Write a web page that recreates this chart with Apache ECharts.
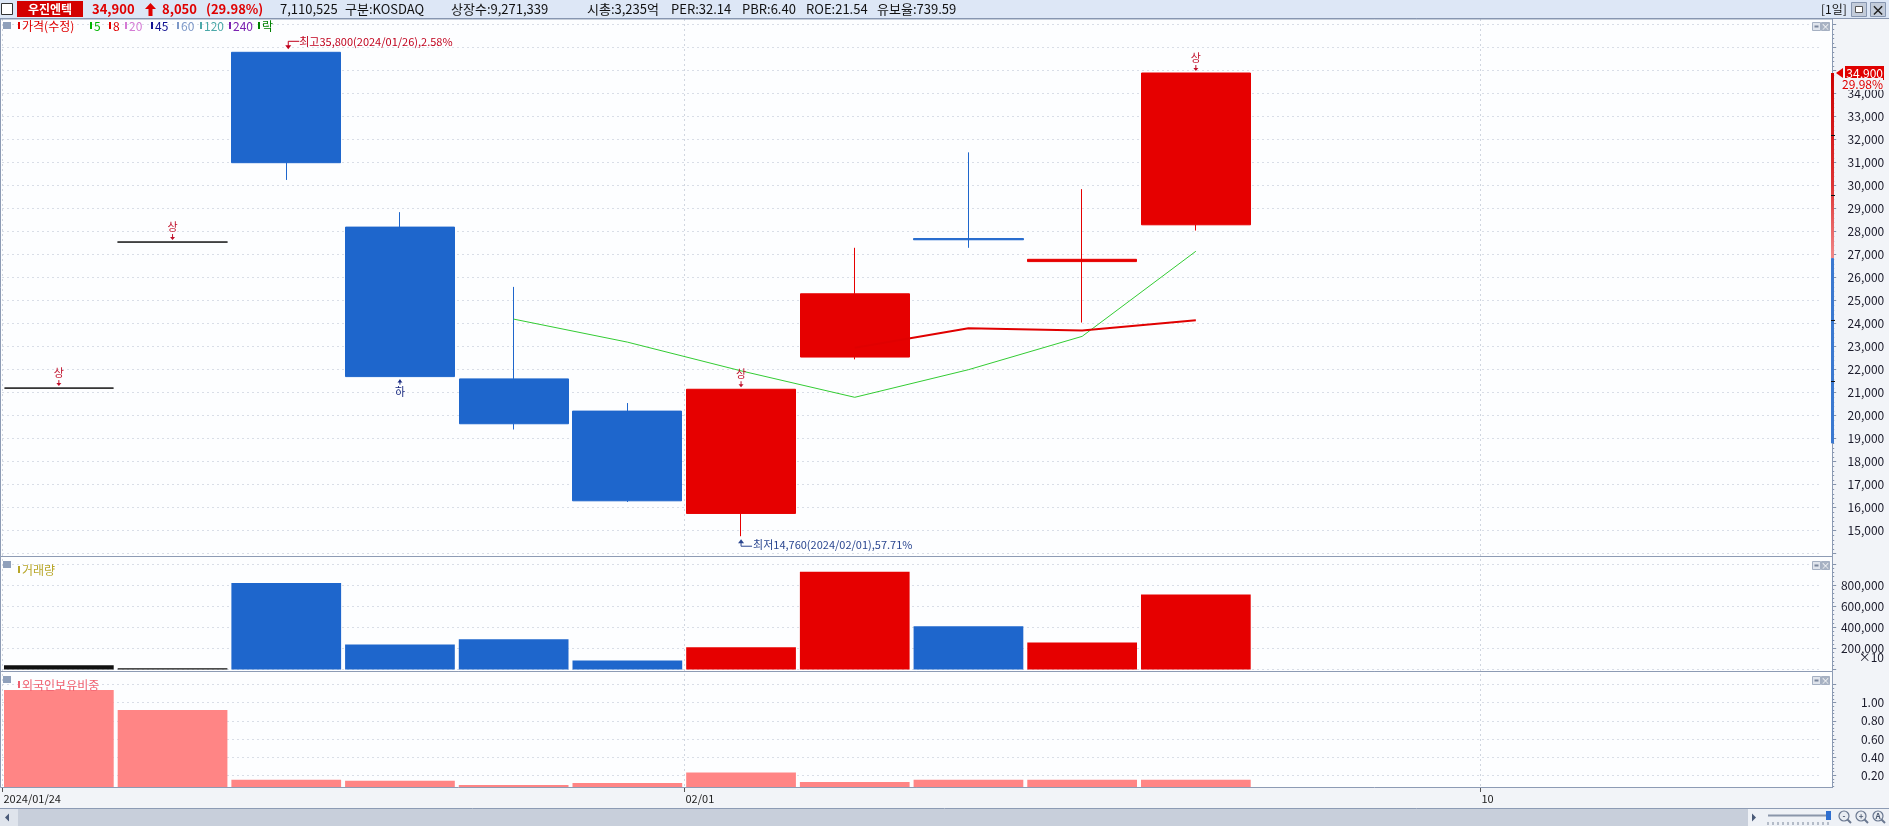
<!DOCTYPE html>
<html><head><meta charset="utf-8">
<script src="https://cdn.jsdelivr.net/npm/echarts@6/dist/echarts.min.js"></script>
<style>html,body{margin:0;padding:0;background:#fff;overflow:hidden}#c{width:1889px;height:826px}</style>
</head><body><div id="c"></div>
<script>
// ---------- data ----------
const categories = ['2024/01/24','2024/01/25','2024/01/26','2024/01/29','2024/01/30','2024/01/31','2024/02/01','2024/02/02','2024/02/05','2024/02/06','2024/02/07','2024/02/08','2024/02/09','2024/02/10','2024/02/11','2024/02/12'];
const openP  = [21200,27550,35800,28200,21600,20200,15750,22550,27700,26700,28300];
const closeP = [21200,27550,31000,21700,19650,16300,21150,25300,27650,26800,34900];
const lowP   = [21200,27550,30250,21700,19400,16250,14760,22450,27300,24050,28050];
const highP  = [21200,27550,35800,28850,25600,20550,21150,27300,31450,29850,34900];
const ma5    = [null,null,null,null,24200,23200,21950,20800,22000,23450,27150];
const ma8    = [null,null,null,null,null,null,null,22950,23800,23700,24150];
const volume = [41000,12000,819000,238000,286000,86000,210000,927000,410000,257000,711053];
const foreignRatio = [1.14,0.92,0.15,0.14,0.093,0.115,0.23,0.125,0.15,0.15,0.15];
const priceTickLabels = [15000,16000,17000,18000,19000,20000,21000,22000,23000,24000,25000,26000,27000,28000,29000,30000,31000,32000,33000,34000];
const volumeTickLabels = [200000,400000,600000,800000];
const foreignTickLabels = [0.2,0.4,0.6,0.8,1.0];
const dateTickCats = ['2024/01/24','2024/02/01','2024/02/10'];
const dateTickTexts = ['2024/01/24','02/01','10'];
const limitUpIdx = [0,1,6,10];
const limitDownIdx = [3];
const maxIdx = 2, maxVal = 35800, maxText = '최고35,800(2024/01/26),2.58%';
const minIdx = 6, minVal = 14760, minText = '최저14,760(2024/02/01),57.71%';
const lastPrice = 34900, lastPriceText = '34,900', lastPctText = '29.98%';
const axisBarRed = [34900, 26850], axisBarBlue = [26850, 18800];
const axisBarMarks = [32200, 29600, 24150, 21500];

// ---------- style ----------
const FONT = '"Noto Sans CJK KR","Noto Sans",sans-serif';
const RED = '#e60000', BLUE = '#1e66cc', DOJI = '#111111';
const AX = '#8593ab', GRIDC = '#d9dee7', BG = '#f2f4f8';
const fmt = v => String(v).replace(/\B(?=(\d{3})+(?!\d))/g, ',');
const candleData = openP.map((o, i) => [o, closeP[i], lowP[i], highP[i]]);
const dirColor = openP.map((o, i) => closeP[i] > o ? RED : (closeP[i] < o ? BLUE : DOJI));

const chart = echarts.init(document.getElementById('c'));
const yCommon = (gi) => ({
  type: 'value', gridIndex: gi, position: 'right', offset: 11,
  axisLine: {show: true, lineStyle: {color: AX}},
  axisTick: {show: true, length: 4, lineStyle: {color: AX}},
  minorTick: {show: true, splitNumber: 5, length: 2, lineStyle: {color: AX}},
  splitLine: {show: true, lineStyle: {type: [2, 3], color: GRIDC}},
  axisLabel: {fontFamily: FONT, fontSize: 12, color: '#1a1a2a', align: 'right', margin: 52}
});
const W = 1819.2;
chart.setOption({
  animation: false,
  backgroundColor: BG,
  grid: [
    {left: 2, top: 24.7, width: W, height: 529},
    {left: 2, top: 564, width: W, height: 105.5},
    {left: 2, top: 684.6, width: W, height: 108.8}
  ],
  xAxis: [0, 1, 2].map(i => ({type: 'category', gridIndex: i, data: categories, boundaryGap: true, show: false})),
  yAxis: [
    Object.assign(yCommon(0), {min: 14000, max: 37000, interval: 1000,
      axisLabel: Object.assign(yCommon(0).axisLabel, {formatter: v => priceTickLabels.includes(v) ? fmt(v) : ''})}),
    Object.assign(yCommon(1), {min: 0, max: 1000000, interval: 200000,
      axisLabel: Object.assign(yCommon(1).axisLabel, {formatter: v => volumeTickLabels.includes(v) ? fmt(v) : ''})}),
    Object.assign(yCommon(2), {min: 0, max: 1.2, interval: 0.2,
      axisLabel: Object.assign(yCommon(2).axisLabel, {formatter: v => foreignTickLabels.some(t => Math.abs(t - v) < 1e-6) ? v.toFixed(2) : ''})})
  ],
  series: [
    {type: 'candlestick', xAxisIndex: 0, yAxisIndex: 0, data: candleData, barWidth: '96.5%',
     itemStyle: {color: RED, color0: BLUE, borderColor: RED, borderColor0: BLUE, borderColorDoji: DOJI, borderWidth: 1}},
    {type: 'line', xAxisIndex: 0, yAxisIndex: 0, data: ma5, symbol: 'none', z: 3,
     lineStyle: {color: '#33cc33', width: 1}},
    {type: 'line', xAxisIndex: 0, yAxisIndex: 0, data: ma8, symbol: 'none', z: 3,
     lineStyle: {color: '#e00000', width: 2}},
    {type: 'bar', xAxisIndex: 1, yAxisIndex: 1, barWidth: '96.5%',
     data: volume.map((v, i) => ({value: v, itemStyle: {color: dirColor[i]}}))},
    {type: 'bar', xAxisIndex: 2, yAxisIndex: 2, barWidth: '96.5%',
     data: foreignRatio, itemStyle: {color: '#ff8585'}}
  ]
});

// ---------- decorations positioned through the scales ----------
const P = (gi, i, v) => chart.convertToPixel({gridIndex: gi}, [i, v]);
const bw = P(0, 1, 20000)[0] - P(0, 0, 20000)[0];
const g = [];
const rect = (x, y, w, h, fill, z, stroke) => g.push({type: 'rect', shape: {x, y, width: w, height: h}, style: {fill: fill || 'none', stroke: stroke || null, lineWidth: 1}, z: z == null ? -10 : z, silent: true});
const line = (x1, y1, x2, y2, stroke, z, dash, lw) => g.push({type: 'line', shape: {x1, y1, x2, y2}, style: {stroke, lineWidth: lw || 1, lineDash: dash || null}, z: z == null ? 5 : z, silent: true});
const text = (x, y, t, fill, size, z, extra) => g.push({type: 'text', x, y, style: Object.assign({text: t, fill, font: (extra && extra.bold ? 'bold ' : '') + size + 'px ' + FONT, textVerticalAlign: 'middle', textAlign: (extra && extra.align) || 'left'}, extra && extra.style || {}), z: z == null ? 20 : z, silent: true});
const poly = (pts, fill, z) => g.push({type: 'polygon', shape: {points: pts}, style: {fill}, z: z == null ? 20 : z, silent: true});
const pline = (pts, stroke, z) => g.push({type: 'polyline', shape: {points: pts}, style: {stroke, lineWidth: 1, fill: null}, z: z == null ? 20 : z, silent: true});

const RX = 1832.5;
// panel backgrounds
rect(0, 19, RX, 537, '#fdfeff');
rect(0, 557, RX, 114, '#fdfeff');
rect(0, 672, RX, 116, '#fdfeff');
// cover foreign bars below the panel bottom (date strip)
rect(0, 788, 1889, 21, BG, 8);
// panel frames
[[19, 556.5], [556.5, 671.5], [671.5, 787.5]].forEach(([a, b]) => {
  line(0.5, a, RX, a, '#8d9bb4', 9); line(0.5, b, RX, b, '#8d9bb4', 9);
  line(0.5, a, 0.5, b, '#8d9bb4', 9); line(RX, a, RX, b, '#8d9bb4', 9);
});
line(0, 808.5, 1889, 808.5, '#8d9bb4', 9);
// vertical date lines + date labels
dateTickCats.forEach((c, k) => {
  const i = categories.indexOf(c);
  const x = Math.round(P(2, i, 0.5)[0] - bw / 2) + 0.5;
  line(x, 19, x, 787, '#d0d6e0', 1, [2, 3]);
  line(x, 788, x, 792, '#555', 10);
  text(x + 1, 799, dateTickTexts[k], '#222', 11, 11);
});

// header
rect(0, 0, 1889, 18, '#dde7f6', 0);
line(0, 18.5, 1889, 18.5, '#8796b0', 9);
rect(1.5, 3.5, 11, 11, '#ffffff', 10, '#333');
rect(17, 1, 66, 16, '#d40000', 10);
text(50, 9.5, '우진엔텍', '#fff', 12, 20, {bold: true, align: 'center'});
[['34,900', 92, '#e00000'], ['8,050', 162, '#e00000'], ['(29.98%)', 206, '#e00000'],
 ['7,110,525', 280, '#111'], ['구분:KOSDAQ', 345, '#111'], ['상장수:9,271,339', 451, '#111'], ['시총:3,235억', 587, '#111'],
 ['PER:32.14', 671, '#111'], ['PBR:6.40', 742, '#111'], ['ROE:21.54', 806, '#111'], ['유보율:739.59', 877, '#111']]
 .forEach(([t, x, c]) => text(x, 9.5, t, c, 13, 20, {bold: c !== '#111'}));
poly([[150.5, 3], [156, 9], [152.5, 9], [152.5, 16], [148.5, 16], [148.5, 9], [145, 9]], '#e00000', 20);
text(1821, 9.5, '[1일]', '#111', 12);
rect(1851.5, 2.5, 15, 14, '#c3ccda', 10, '#8796b0'); rect(1855.5, 6.5, 7, 6, '#fff', 11, '#555');
rect(1870.5, 2.5, 15, 14, '#c3ccda', 10, '#8796b0'); text(1878, 9.5, '×', '#222', 14, 20, {align: 'center', bold: true});

// panel icons and legends
[22, 561, 676].forEach(y => {
  rect(3, y, 8, 7, '#8fa0bb', 10);
  rect(1812.5, y + 0.5, 8, 8, '#dfe4ec', 10, '#a5b0c2'); rect(1814.5, y + 3.5, 4, 2, '#7a879c', 11);
  rect(1821.5, y + 0.5, 8, 8, '#aab4c4', 10, '#a5b0c2'); text(1825.5, y + 4.5, '×', '#fff', 9, 20, {align: 'center'});
});
[['가격(수정)', 18, '#e00000'], ['5', 90, '#00b400'], ['8', 109, '#e00000'], ['20', 125, '#d47ad4'], ['45', 151, '#101090'],
 ['60', 177, '#7c98c8'], ['120', 200, '#4aa8a8'], ['240', 229, '#7a20b0'], ['락', 258, '#008000']]
 .forEach(([t, x, c]) => { rect(x, 22, 2, 7, c, 10); text(x + 4, 26, t, c, 12); });
rect(18, 566, 2, 7, '#b8a628', 10); text(22, 570, '거래량', '#b8a628', 12);
rect(18, 681, 2, 7, '#f06070', 10); text(22, 685, '외국인보유비중', '#f06070', 12);

// max / min annotations
(() => {
  const [x, y] = P(0, maxIdx, maxVal);
  pline([[x + 13, y - 11], [x + 2, y - 11], [x + 2, y - 6]], '#c0001c');
  poly([[x - 1, y - 7], [x + 5, y - 7], [x + 2, y - 3]], '#c0001c');
  text(x + 13, y - 10, maxText, '#c0001c', 11);
})();
(() => {
  const [x, y] = P(0, minIdx, minVal);
  pline([[x, y + 6], [x, y + 10], [x + 11, y + 10]], '#2a4690');
  poly([[x - 3, y + 7], [x + 3, y + 7], [x, y + 3]], '#2a4690');
  text(x + 12, y + 9, minText, '#2a4690', 11);
})();
// 상 / 하 markers
limitUpIdx.forEach(i => {
  const [x, y] = P(0, i, highP[i]);
  text(x, y - 15, '상', '#c0102a', 11, 20, {align: 'center'});
  line(x, y - 8, x, y - 3, '#c0102a', 20);
  poly([[x - 2.5, y - 5], [x + 2.5, y - 5], [x, y - 2]], '#c0102a');
});
limitDownIdx.forEach(i => {
  const [x, y] = P(0, i, lowP[i]);
  line(x, y + 3, x, y + 8, '#1a2a80', 20);
  poly([[x - 2.5, y + 6], [x + 2.5, y + 6], [x, y + 3]], '#1a2a80');
  text(x, y + 15, '하', '#1a2a80', 11, 20, {align: 'center'});
});

// price axis marker bar & last price
(() => {
  const yr0 = P(0, 0, axisBarRed[0])[1], yr1 = P(0, 0, axisBarRed[1])[1], yb1 = P(0, 0, axisBarBlue[1])[1];
  g.push({type: 'rect', shape: {x: 1831, y: yr0, width: 3, height: yr1 - yr0}, z: 12, silent: true,
    style: {fill: new echarts.graphic.LinearGradient(0, 0, 0, 1, [{offset: 0, color: '#cc0000'}, {offset: 0.6, color: '#dd3333'}, {offset: 1, color: '#f08888'}])}});
  g.push({type: 'rect', shape: {x: 1831, y: yr1, width: 3, height: yb1 - yr1}, style: {fill: '#3a78d0'}, z: 12, silent: true});
  axisBarMarks.forEach(v => { const y = Math.round(P(0, 0, v)[1]) + 0.5; line(1831, y, 1835, y, '#111', 13); });
  const y = P(0, 0, lastPrice)[1];
  poly([[1836, y], [1843, y - 5], [1843, y + 5]], '#e00000', 14);
  rect(1845, y - 7, 39, 14, '#e00000', 14);
  text(1883, y, lastPriceText, '#fff', 12, 21, {align: 'right'});
  text(1883, y + 11, lastPctText, '#e00000', 12, 21, {align: 'right', style: {backgroundColor: BG, padding: [0, 0, 0, 8]}});
})();
// x10 under volume axis
text(1884, P(1, 0, 0)[1] - 12, '×10', '#1a1a2a', 12, 20, {align: 'right'});

// scroll bar
rect(0, 809, 1889, 17, '#c8cfdb', 0);
rect(0, 809, 18, 17, '#dfe4ec', 1);
poly([[5, 817.5], [9, 813.5], [9, 821.5]], '#4a5a78', 20);
rect(1748, 809, 141, 17, '#eef1f6', 1);
poly([[1756, 817.5], [1752, 813.5], [1752, 821.5]], '#4a5a78', 20);
line(1768, 815.5, 1826, 815.5, '#8a96aa', 20, null, 2);
rect(1826, 811, 5, 9, '#2f6fd0', 20);
for (let k = 0; k <= 12; k++) line(1768 + k * 5, 822, 1768 + k * 5, 825, '#7a869a', 20);
[1844, 1861, 1878].forEach((x, k) => {
  g.push({type: 'circle', shape: {cx: x, cy: 816, r: 5}, style: {fill: '#e8ecf2', stroke: '#6a7890', lineWidth: 1.2}, z: 20, silent: true});
  line(x + 3.5, 819.5, x + 7, 823, '#6a7890', 20, null, 2);
  text(x, 816, ['-', '+', 'A'][k], '#4a5870', 8, 21, {align: 'center', bold: true});
});

chart.setOption({graphic: {elements: g}});
</script></body></html>
